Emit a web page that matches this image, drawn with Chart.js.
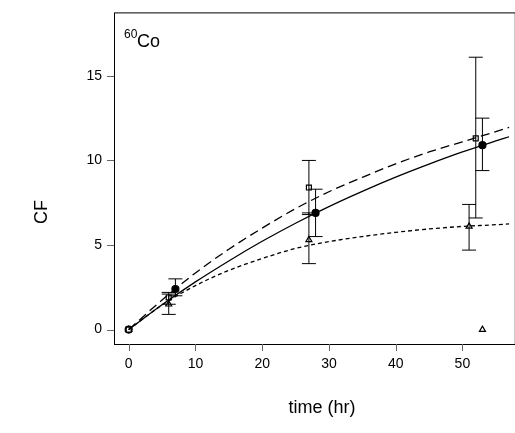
<!DOCTYPE html>
<html><head><meta charset="utf-8">
<script src="https://cdn.jsdelivr.net/npm/chart.js@4"></script>
<style>html,body{margin:0;background:#fff}#wrap{width:515px;height:433px}</style>
</head><body><div id="wrap"><canvas id="c"></canvas></div>
<script>
const sqX = [0, 6, 27, 52];
const sqY = [0, 1.9, 8.4, 11.3];
const sqLo = [null, 1.5, 6.8, 6.6];
const sqHi = [null, 2.2, 10.0, 16.1];
const ciX = [0, 7, 28, 53];
const ciY = [0, 2.4, 6.9, 10.9];
const ciLo = [null, 2.0, 5.5, 9.4];
const ciHi = [null, 3.0, 8.3, 12.5];
const trX = [0, 6, 27, 51, 53];
const trY = [0, 1.5, 5.3, 6.1, 0];
const trLo = [null, 0.9, 3.9, 4.7, null];
const trHi = [null, 2.1, 6.9, 7.4, null];
// フィット曲線
const curveT = [0, 5, 10, 15, 20, 25, 30, 35, 40, 45, 50, 55, 57];
const solidY = [0, 1.47, 2.82, 4.06, 5.22, 6.29, 7.27, 8.17, 9.01, 9.78, 10.5, 11.15, 11.4];
const longDashY = [0, 1.75, 3.35, 4.75, 6.0, 7.15, 8.15, 9.0, 9.8, 10.5, 11.1, 11.7, 11.95];
const shortDashY = [0, 1.45, 2.6, 3.5, 4.2, 4.8, 5.2, 5.5, 5.75, 5.95, 6.1, 6.2, 6.25];
const xTicks = [0, 10, 20, 30, 40, 50];
const yTicks = [0, 5, 10, 15];

const pts = (xs, ys) => xs.map((x, i) => ({ x, y: ys[i] }));
const line = (ys, dash) => ({ type: "line", data: pts(curveT, ys), borderColor: "#000", borderWidth: 1.3,
  borderDash: dash, pointRadius: 0, cubicInterpolationMode: "monotone", fill: false });
const marks = (xs, ys, style, filled, lo, hi) => ({ type: "scatter", data: pts(xs, ys), pointStyle: style,
  pointRadius: 3.5, borderColor: "#000", borderWidth: 1.2, backgroundColor: filled ? "#000" : "#fff", lo, hi });

const errorBars = {
  id: "errorBars",
  afterDatasetsDraw(chart) {
    const { ctx, scales: { x, y } } = chart;
    ctx.save(); ctx.strokeStyle = "#000"; ctx.lineWidth = 1;
    chart.data.datasets.forEach(ds => {
      if (!ds.lo) return;
      ds.data.forEach((p, i) => {
        if (ds.lo[i] == null) return;
        const px = x.getPixelForValue(p.x), a = y.getPixelForValue(ds.lo[i]), b = y.getPixelForValue(ds.hi[i]);
        ctx.beginPath(); ctx.moveTo(px, a); ctx.lineTo(px, b);
        ctx.moveTo(px - 7, a); ctx.lineTo(px + 7, a); ctx.moveTo(px - 7, b); ctx.lineTo(px + 7, b); ctx.stroke();
      });
    });
    ctx.restore();
  }
};

const labels = {
  id: "labels",
  afterDraw(chart) {
    const { ctx, chartArea: a } = chart;
    ctx.save(); ctx.fillStyle = "#000";
    ctx.strokeStyle = "#000"; ctx.lineWidth = 1;
    ctx.strokeRect(a.left + 0.5, a.top + 0.5, a.right - a.left + 5, a.bottom - a.top);
    ctx.font = "12px 'Liberation Sans', Arial"; ctx.textBaseline = "alphabetic";
    ctx.fillText("60", a.left + 10, a.top + 26);
    ctx.font = "18px 'Liberation Sans', Arial";
    ctx.fillText("Co", a.left + 23, a.top + 35);
    ctx.textAlign = "center";
    ctx.fillText("time (hr)", 322, 413);
    ctx.translate(47, 212); ctx.rotate(-Math.PI / 2); ctx.fillText("CF", 0, 0);
    ctx.restore();
  }
};

const tickOpts = (vals) => ({ color: "#000", font: { family: "'Liberation Sans', Arial", size: 14 }, padding: 4,
  callback: v => vals.includes(v) ? String(v) : null, autoSkip: false });

new Chart(document.getElementById("c"), {
  data: { datasets: [
    line(solidY, []), line(longDashY, [9, 5]), line(shortDashY, [4, 3]),
    marks(sqX, sqY, "rect", false, sqLo, sqHi),
    marks(ciX, ciY, "circle", true, ciLo, ciHi),
    marks(trX, trY, "triangle", false, trLo, trHi)
  ] },
  options: {
    responsive: true, maintainAspectRatio: false, animation: false,
    layout: { padding: { top: 12, right: 0, left: 0, bottom: 0 } },
    plugins: { legend: { display: false }, tooltip: { enabled: false } },
    scales: {
      x: { type: "linear", min: -2.2, max: 57.1, afterBuildTicks: s => { s.ticks = xTicks.map(v => ({ value: v })); },
        grid: { display: false, drawTicks: true }, border: { display: false },
        ticks: tickOpts(xTicks), afterFit: s => { s.height = 89; } },
      y: { type: "linear", min: -0.85, max: 18.75, afterBuildTicks: s => { s.ticks = yTicks.map(v => ({ value: v })); },
        grid: { display: false }, border: { display: false },
        ticks: tickOpts(yTicks), afterFit: s => { s.width = 114; } }
    }
  },
  plugins: [errorBars, labels, {
    id: "tickMarks",
    afterDraw(chart) {
      const { ctx, chartArea: a, scales: { x, y } } = chart;
      ctx.save(); ctx.strokeStyle = "#666"; ctx.lineWidth = 1; ctx.beginPath();
      xTicks.forEach(v => { const p = Math.round(x.getPixelForValue(v)) + 0.5; ctx.moveTo(p, a.bottom); ctx.lineTo(p, a.bottom + 7); });
      yTicks.forEach(v => { const p = Math.round(y.getPixelForValue(v)) + 0.5; ctx.moveTo(a.left, p); ctx.lineTo(a.left - 7, p); });
      ctx.stroke(); ctx.restore();
    }
  }]
});
</script></body></html>
